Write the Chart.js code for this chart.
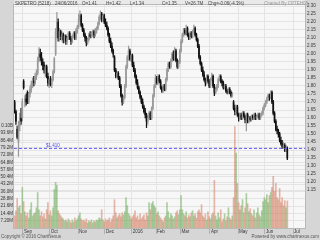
<!DOCTYPE html>
<html>
<head>
<meta charset="utf-8">
<script src="https://cdn.jsdelivr.net/npm/chart.js@4.4.0/dist/chart.umd.min.js"></script>
<style>
  html, body { margin: 0; padding: 0; background: #d6d6d6; }
  #wrap { width: 320px; height: 240px; }
</style>
</head>
<body>
<div id="wrap"><canvas id="stock" width="320" height="240"></canvas></div>
<script>
// daily OHLC, 21 Aug 2015 .. 24 Jun 2016 (one entry per trading day)
const open = [
  1.70,1.64,1.53,1.45,1.55,1.60,1.60,1.83,1.70,1.72,
  1.76,1.70,1.75,1.78,1.81,1.83,1.82,1.86,1.88,1.96,
  2.00,1.98,1.95,1.93,1.90,1.92,1.86,1.82,1.84,1.81,
  1.84,1.89,2.00,2.14,2.20,2.10,2.14,2.11,2.12,2.09,
  2.11,2.08,2.10,2.13,2.10,2.08,2.11,2.13,2.10,2.15,
  2.17,2.22,2.24,2.18,2.15,2.12,2.10,2.07,2.09,2.12,
  2.11,2.13,2.14,2.12,2.15,2.16,2.19,2.23,2.25,2.22,
  2.24,2.20,2.18,2.16,2.12,2.08,2.05,2.02,1.98,1.90,
  1.86,1.88,1.85,1.80,1.74,1.70,1.73,1.80,1.92,1.98,
  2.02,1.97,1.99,1.93,1.90,1.86,1.82,1.79,1.76,1.73,
  1.70,1.67,1.64,1.62,1.58,1.60,1.63,1.60,1.66,1.74,
  1.80,1.85,1.82,1.86,1.83,1.79,1.77,1.80,1.78,1.84,
  1.90,1.94,1.92,1.96,2.00,1.97,2.02,1.96,1.92,1.95,
  2.02,2.08,2.12,2.15,2.13,2.16,2.12,2.10,2.13,2.11,
  2.14,2.16,2.12,2.09,2.05,1.98,1.94,1.90,1.87,1.84,
  1.82,1.86,1.83,1.80,1.84,1.86,1.80,1.76,1.78,1.80,
  1.84,1.86,1.83,1.82,1.79,1.80,1.77,1.76,1.78,1.76,
  1.74,1.70,1.66,1.64,1.67,1.62,1.60,1.62,1.60,1.63,
  1.61,1.59,1.62,1.58,1.60,1.59,1.61,1.60,1.62,1.60,
  1.61,1.62,1.60,1.62,1.63,1.66,1.68,1.70,1.72,1.74,
  1.73,1.76,1.70,1.63,1.58,1.53,1.52,1.50,1.46,1.44,
  1.42,1.43,1.40,1.41
];
const high = [
  1.71,1.65,1.55,1.58,1.63,1.66,1.72,1.84,1.74,1.75,
  1.77,1.76,1.80,1.83,1.85,1.86,1.88,1.90,1.98,2.04,
  2.03,2.01,1.97,1.95,1.93,1.93,1.88,1.85,1.86,1.85,
  1.90,1.98,2.16,2.26,2.22,2.16,2.15,2.14,2.13,2.12,
  2.12,2.11,2.14,2.14,2.11,2.12,2.14,2.14,2.16,2.18,
  2.25,2.27,2.25,2.19,2.16,2.13,2.11,2.10,2.13,2.14,
  2.14,2.15,2.15,2.16,2.17,2.20,2.24,2.27,2.26,2.25,
  2.25,2.22,2.20,2.17,2.13,2.10,2.07,2.03,1.99,1.91,
  1.89,1.89,1.86,1.81,1.75,1.74,1.81,1.93,1.99,2.05,
  2.03,2.00,2.00,1.95,1.91,1.87,1.84,1.80,1.77,1.74,
  1.72,1.68,1.66,1.63,1.61,1.64,1.64,1.67,1.75,1.81,
  1.87,1.86,1.87,1.87,1.84,1.80,1.81,1.81,1.85,1.91,
  1.95,1.95,1.97,2.01,2.02,2.04,2.03,1.97,1.96,2.03,
  2.09,2.13,2.16,2.16,2.18,2.17,2.13,2.14,2.14,2.15,
  2.18,2.17,2.13,2.10,2.06,1.99,1.95,1.92,1.89,1.85,
  1.87,1.87,1.84,1.85,1.88,1.87,1.81,1.79,1.81,1.85,
  1.87,1.87,1.84,1.83,1.81,1.81,1.78,1.79,1.79,1.77,
  1.76,1.71,1.68,1.68,1.68,1.63,1.63,1.63,1.64,1.64,
  1.62,1.63,1.63,1.61,1.61,1.62,1.62,1.63,1.63,1.62,
  1.63,1.63,1.63,1.64,1.67,1.69,1.71,1.73,1.75,1.75,
  1.77,1.77,1.71,1.64,1.59,1.55,1.53,1.51,1.48,1.46,
  1.45,1.44,1.43,1.42
];
const low = [
  1.63,1.56,1.47,1.36,1.52,1.56,1.58,1.78,1.67,1.68,
  1.69,1.69,1.73,1.76,1.79,1.80,1.81,1.84,1.87,1.95,
  1.96,1.93,1.90,1.88,1.86,1.85,1.80,1.79,1.80,1.79,
  1.83,1.88,1.99,2.10,2.08,2.08,2.09,2.08,2.07,2.07,
  2.06,2.06,2.09,2.09,2.06,2.07,2.10,2.09,2.09,2.13,
  2.16,2.20,2.17,2.14,2.11,2.08,2.05,2.06,2.08,2.10,
  2.10,2.11,2.10,2.11,2.13,2.15,2.18,2.21,2.20,2.21,
  2.19,2.17,2.15,2.11,2.07,2.04,2.01,1.98,1.89,1.85,
  1.85,1.84,1.79,1.73,1.68,1.69,1.72,1.79,1.91,1.96,
  1.96,1.95,1.92,1.89,1.85,1.81,1.78,1.75,1.72,1.69,
  1.66,1.63,1.60,1.54,1.56,1.59,1.59,1.59,1.65,1.73,
  1.79,1.81,1.81,1.82,1.78,1.76,1.76,1.77,1.77,1.83,
  1.89,1.91,1.91,1.95,1.96,1.96,1.95,1.91,1.91,1.94,
  2.01,2.07,2.11,2.12,2.12,2.11,2.09,2.09,2.10,2.10,
  2.13,2.11,2.08,2.04,1.97,1.93,1.89,1.86,1.83,1.80,
  1.81,1.82,1.79,1.79,1.83,1.79,1.74,1.75,1.77,1.79,
  1.83,1.82,1.80,1.78,1.78,1.76,1.75,1.75,1.75,1.73,
  1.73,1.65,1.62,1.63,1.61,1.58,1.59,1.59,1.59,1.60,
  1.57,1.52,1.57,1.57,1.58,1.58,1.59,1.59,1.59,1.59,
  1.60,1.59,1.59,1.61,1.62,1.65,1.67,1.69,1.71,1.71,
  1.72,1.69,1.62,1.57,1.52,1.50,1.48,1.45,1.43,1.41,
  1.41,1.39,1.39,1.34
];
const close = [
  1.64,1.58,1.48,1.55,1.60,1.58,1.70,1.79,1.72,1.70,
  1.70,1.75,1.78,1.81,1.83,1.82,1.86,1.88,1.96,2.00,
  1.98,1.95,1.93,1.90,1.92,1.86,1.82,1.84,1.81,1.84,
  1.89,1.97,2.14,2.20,2.10,2.14,2.11,2.12,2.09,2.11,
  2.08,2.10,2.13,2.10,2.08,2.11,2.13,2.10,2.15,2.17,
  2.22,2.24,2.18,2.15,2.12,2.10,2.07,2.09,2.12,2.11,
  2.13,2.14,2.12,2.15,2.16,2.19,2.23,2.25,2.22,2.24,
  2.20,2.18,2.16,2.12,2.08,2.05,2.02,2.00,1.90,1.86,
  1.88,1.85,1.80,1.74,1.70,1.73,1.80,1.92,1.98,2.02,
  1.97,1.99,1.93,1.90,1.86,1.82,1.79,1.76,1.73,1.70,
  1.67,1.64,1.62,1.58,1.60,1.63,1.60,1.66,1.74,1.80,
  1.85,1.82,1.86,1.83,1.79,1.77,1.80,1.78,1.84,1.90,
  1.94,1.92,1.96,2.00,1.97,2.02,1.96,1.92,1.95,2.02,
  2.08,2.12,2.15,2.13,2.16,2.12,2.10,2.13,2.11,2.14,
  2.16,2.12,2.09,2.05,1.98,1.94,1.90,1.87,1.84,1.82,
  1.86,1.83,1.80,1.84,1.86,1.80,1.76,1.78,1.80,1.84,
  1.86,1.83,1.82,1.79,1.80,1.77,1.76,1.78,1.76,1.74,
  1.75,1.66,1.64,1.67,1.62,1.60,1.62,1.60,1.63,1.61,
  1.59,1.62,1.58,1.60,1.59,1.61,1.60,1.62,1.60,1.61,
  1.62,1.60,1.62,1.63,1.66,1.68,1.70,1.72,1.74,1.73,
  1.76,1.70,1.63,1.58,1.53,1.52,1.50,1.46,1.44,1.42,
  1.43,1.40,1.41,1.35
];
// volume in millions
const volume = [
  12,17,29,20,22,14,40,26,16,12,
  15,10,18,25,12,14,15,20,35,18,
  12,16,11,14,9,18,25,13,17,12,
  20,38,45,42,17,14,12,10,9,7,
  8,6,9,7,5,8,6,10,7,9,
  12,15,9,7,8,6,9,5,7,6,
  8,5,7,6,8,7,10,9,18,8,
  6,9,7,8,10,6,9,12,28,15,
  10,12,14,11,15,13,16,30,22,14,
  12,9,11,13,17,10,12,8,14,9,
  11,13,8,15,12,25,18,24,26,22,
  20,14,16,12,10,8,6,10,12,25,
  16,10,14,12,9,11,15,17,13,18,
  32,18,14,12,16,10,13,11,15,17,
  12,14,10,16,18,15,23,12,10,14,
  8,16,11,9,13,15,47,12,8,15,
  10,18,6,9,14,7,11,20,10,8,
  12,30,100,74,44,25,18,22,28,15,
  20,34,24,16,19,14,12,18,10,15,
  20,13,11,17,26,30,28,33,25,32,
  35,40,51,36,44,30,28,39,25,30,
  22,27,20,26.7
];

// first trading day of each month (day index) and its label
const monthIdx = [7, 28, 50, 71, 92, 111, 130, 153, 175, 196, 218];
const monthLabels = ['Sep', 'Oct', 'Nov', 'Dec', '2016', 'Feb', 'Mar', 'Apr', 'May', 'Jun', 'Jul'];

const priceTicks = [2.30,2.25,2.20,2.15,2.10,2.05,2.00,1.95,1.90,1.85,1.80,1.75,1.70,1.65,1.60,1.55,1.50,1.45,1.40,1.35,1.30,1.25,1.20,1.15];
const volTicks = [7.2, 14.4, 21.6, 28.8, 36.0, 43.2, 50.4, 57.6, 64.8, 72.0, 79.2, 86.4, 93.6, 100.8];
const volTickLabels = ['7.20M','14.4M','21.6M','28.8M','36.0M','43.2M','50.4M','57.6M','64.8M','72.0M','79.2M','86.4M','93.6M','0.10B'];

const refPrice = 1.41;
const headerItems = [
  ['SKPETRO (5218)', 15], ['24/06/2016', 55], ['O=1.41', 82], ['H=1.42', 106],
  ['L=1.34', 130], ['C=1.35', 162], ['V=26.7M', 185], ['Chg=-0.06(-4.3%)', 208]
];

const FONT = '"Liberation Sans", Arial, sans-serif';
const isUp = close.map((c, i) => c >= open[i]);

const frame = {
  id: 'frame',
  beforeDraw(chart) {
    const { ctx, chartArea: a } = chart;
    ctx.save();
    ctx.fillStyle = '#d6d6d6';
    ctx.fillRect(0, 0, chart.width, chart.height);
    ctx.fillStyle = '#e9e9e9';
    ctx.fillRect(a.left, 0, a.right - a.left, a.top);
    ctx.fillStyle = '#f7f7f7';
    ctx.fillRect(a.left, a.top, a.right - a.left, a.bottom - a.top);
    ctx.restore();
  },
  afterDraw(chart) {
    const { ctx, chartArea: a } = chart;
    const py = chart.scales.price.getPixelForValue(refPrice);
    ctx.save();
    ctx.strokeStyle = '#b8b8b8';
    ctx.lineWidth = 1;
    ctx.strokeRect(a.left - 0.5, a.top - 0.5, a.right - a.left + 1, a.bottom - a.top + 1);
    ctx.textBaseline = 'middle';
    ctx.font = '4.5px ' + FONT;
    ctx.fillStyle = '#444';
    headerItems.forEach(([t, x]) => ctx.fillText(t, x, 4));
    ctx.fillStyle = '#9a9a9a';
    ctx.fillText('Charted By CPTEH08', 264, 4);
    ctx.fillStyle = '#555';
    ctx.fillText('Copyright \u00a9 2016 ChartNexus', 1, 237);
    ctx.textAlign = 'right';
    ctx.fillText('Powered by www.chartnexus.com', 319, 237);
    ctx.textAlign = 'left';
    ctx.fillStyle = '#4a4af0';
    ctx.fillText('$' + refPrice.toFixed(3), 46, py - 3);
    ctx.restore();
  }
};

new Chart(document.getElementById('stock'), {
  type: 'bar',
  data: {
    datasets: [
      {
        type: 'line',
        yAxisID: 'price',
        data: [{ x: -0.5, y: refPrice }, { x: 226.8, y: refPrice }],
        borderColor: '#5a5af5',
        borderWidth: 1,
        borderDash: [3, 2],
        pointRadius: 0,
        order: 0
      },
      {
        yAxisID: 'price',
        data: close.map((c, i) => ({ x: i, y: [Math.min(open[i], c), Math.max(open[i], c)] })),
        backgroundColor: isUp.map(u => u ? '#9a9a9a' : '#111111'),
        barThickness: 1,
        grouped: false,
        order: 1
      },
      {
        yAxisID: 'price',
        data: close.map((c, i) => ({ x: i, y: [low[i], high[i]] })),
        backgroundColor: isUp.map(u => u ? '#9a9a9a' : '#111111'),
        barThickness: 0.6,
        grouped: false,
        order: 2
      },
      {
        yAxisID: 'vol',
        data: volume.map((v, i) => ({ x: i, y: v * 1e6 })),
        backgroundColor: isUp.map(u => u ? 'rgba(95,165,75,0.5)' : 'rgba(210,115,85,0.5)'),
        barThickness: 1,
        grouped: false,
        order: 3
      }
    ]
  },
  options: {
    responsive: false,
    animation: false,
    layout: { padding: { top: 5, left: 0, right: 0, bottom: 0 } },
    plugins: { legend: { display: false }, tooltip: { enabled: false } },
    scales: {
      x: {
        type: 'linear',
        min: -0.5,
        max: 226.8,
        offset: false,
        afterBuildTicks: s => { s.ticks = monthIdx.map(v => ({ value: v - 0.5 })); },
        afterFit: s => { s.height = 12; },
        grid: { color: '#e4e4e4', offset: false, tickLength: 6, tickColor: '#b0b0b0' },
        border: { display: false },
        ticks: {
          autoSkip: false, maxRotation: 0, align: 'start', padding: -5, labelOffset: 1,
          font: { size: 4.5, family: FONT }, color: '#333',
          callback: (v, i) => monthLabels[i]
        }
      },
      price: {
        type: 'linear',
        position: 'right',
        min: 0.9125,
        max: 2.30625,
        afterBuildTicks: s => { s.ticks = priceTicks.map(v => ({ value: v })); },
        afterFit: s => { s.width = 15; },
        grid: { color: '#e4e4e4', drawTicks: false },
        border: { display: false },
        ticks: { padding: 2, font: { size: 4.5, family: FONT }, color: '#333', callback: v => v.toFixed(2) }
      },
      vol: {
        type: 'linear',
        position: 'left',
        min: 0,
        max: 220e6,
        afterBuildTicks: s => { s.ticks = volTicks.map(v => ({ value: v * 1e6 })); },
        afterFit: s => { s.width = 14; },
        grid: { color: '#e4e4e4', drawTicks: false },
        border: { display: false },
        ticks: { padding: 1, font: { size: 4.5, family: FONT }, color: '#333', callback: (v, i) => volTickLabels[i] }
      }
    }
  },
  plugins: [frame]
});
</script>
</body>
</html>
